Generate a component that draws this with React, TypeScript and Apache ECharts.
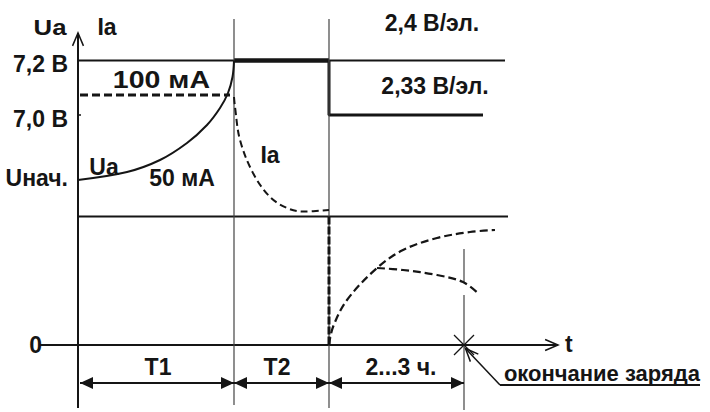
import React, { useEffect, useRef } from "react";
import * as echarts from "echarts";

// Schematic units: 1 time unit along t, 1 level unit along Ua/Ia.
const T1_END = 15.6;
const T2_END = 25.1;
const T_END = 38.6;
const U_72 = 28.45; // 7,2 В
const U_70 = 23.0; // 7,0 В
const U_START = 16.5; // Uнач.
const I_100 = 25.0; // 100 мА
const MID = 12.85; // lower boundary of the Ua/Ia panel
const DIM_Y = -3.8; // dimension arrows row

const uaCurve = [
  [0, 16.5], [4.9, 17.3], [8.2, 18.5], [10.9, 20.2], [12.9, 22.0],
  [14.2, 23.7], [15.0, 25.2], [15.45, 26.8], [15.6, 28.45],
];
const iaCurve = [
  [15.6, 24.8], [15.7, 23.8], [16.2, 20.5], [17.5, 17.2], [19.2, 14.8],
  [20.9, 13.7], [22.5, 13.35], [25.1, 13.5],
];
const riseCurve = [
  [25.1, 0], [25.5, 1.8], [26.9, 4.5], [29.9, 7.7], [32.5, 9.5],
  [35.9, 10.7], [39.2, 11.3], [41.7, 11.5],
];
const branchCurve = [
  [29.9, 7.7], [32.5, 7.5], [35.9, 7.0], [38.5, 6.3], [40.1, 5.1],
];

const tickLabels = [
  { value: U_72, text: "7,2 В" },
  { value: U_70, text: "7,0 В" },
  { value: 17.1, text: "Uнач." },
];

const texts = [
  { text: "Ua", x: -2.8, y: 31.8, align: "center", sx: 1.12 },
  { text: "Ia", x: 2.9, y: 31.8, align: "center" },
  { text: "0", x: -3.6, y: 0, align: "right" },
  { text: "100 мА", x: 13.2, y: 26.5, align: "right", sx: 1.24 },
  { text: "Ua", x: 2.6, y: 17.8, align: "center" },
  { text: "50 мА", x: 10.4, y: 16.7, align: "center" },
  { text: "Ia", x: 19.2, y: 19.0, align: "center" },
  { text: "2,4 В/эл.", x: 35.4, y: 32.2, align: "center" },
  { text: "2,33 В/эл.", x: 35.7, y: 25.9, align: "center" },
  { text: "T1", x: 8.0, y: -2.2, align: "center" },
  { text: "T2", x: 19.9, y: -2.2, align: "center" },
  { text: "2...3 ч.", x: 32.3, y: -2.2, align: "center" },
  { text: "t", x: 48.7, y: 0.1, align: "left" },
  { text: "окончание заряда", x: 62.2, y: -2.85, align: "right", size: 22 },
];

const INK = "#151515";
const FONT = "Liberation Sans";

function seg(data: number[][], width: number, opts: any = {}) {
  return {
    type: "line",
    data,
    symbol: "none",
    silent: true,
    smooth: opts.smooth ?? false,
    z: opts.z ?? 2,
    lineStyle: {
      color: opts.color ?? INK,
      width,
      type: opts.dash ?? "solid",
      cap: "butt",
    },
  };
}

export default function App() {
  const ref = useRef<HTMLDivElement>(null);
  useEffect(() => {
    if (!ref.current) return;
    const chart = echarts.init(ref.current, undefined, { renderer: "svg" });

    const allTexts: any[] = [
      ...tickLabels.map((t) => ({ text: t.text, x: -1.0, y: t.value - 0.35, align: "right" })),
      ...texts,
    ];

    chart.setOption({
      animation: false,
      grid: { left: 0, right: 0, top: 0, bottom: 0 },
      xAxis: { type: "value", min: -7.8, max: 63.2, show: false },
      yAxis: { type: "value", min: -6.7, max: 34.5, show: false },
      series: [
        seg([[0, -6.3], [0, 31.2]], 2),
        seg([[-3.8, 0], [48, 0]], 2),
        seg([[0, U_72], [42.7, U_72]], 2),
        seg([[T1_END, U_72], [T2_END, U_72]], 4.5),
        seg([[T2_END, U_72], [T2_END, U_70], [40.5, U_70]], 3),
        seg([[0, MID], [43.0, MID]], 2),
        seg([[T1_END, 32.6], [T1_END, -6.0]], 1.2, { color: "#444" }),
        seg([[T2_END, 32.6], [T2_END, -6.3]], 1.2, { color: "#444" }),
        seg([[T_END, 9.6], [T_END, 6.3]], 1.2, { color: "#444" }),
        seg([[T_END, 5.0], [T_END, -6.5]], 1.2, { color: "#444" }),
        seg([[0, U_70], [0.3, U_70]], 1.5),
        seg([[0.2, I_100], [15.2, I_100]], 3, { dash: [8, 4] }),
        seg(uaCurve, 2, { smooth: 0.35 }),
        seg(iaCurve, 2, { smooth: 0.35, dash: [7, 4] }),
        seg([[T2_END, MID], [T2_END, 0]], 3, { dash: [8, 2] }),
        seg(riseCurve, 2.2, { smooth: 0.35, dash: [8, 4] }),
        seg(branchCurve, 2.2, { smooth: 0.35, dash: [8, 4] }),
        seg([[0.2, DIM_Y], [T_END, DIM_Y]], 2),
        seg([[42.2, -4.0], [38.75, -0.35]], 1.5),
        seg([[42.2, -4.0], [62.2, -4.0]], 2),
        {
          // open arrow heads: [tipX, tipY, fromX, fromY]
          type: "custom",
          silent: true,
          z: 3,
          data: [
            [48, 0, 47, 0],
            [0, 31.2, 0, 30],
            [38.75, -0.35, 42.2, -4.0],
          ],
          renderItem: (params: any, api: any) => {
            const tip = api.coord([api.value(0), api.value(1)]);
            const from = api.coord([api.value(2), api.value(3)]);
            const ang = Math.atan2(from[1] - tip[1], from[0] - tip[0]);
            const L = 14, a = 0.4;
            const w1 = [tip[0] + L * Math.cos(ang + a), tip[1] + L * Math.sin(ang + a)];
            const w2 = [tip[0] + L * Math.cos(ang - a), tip[1] + L * Math.sin(ang - a)];
            return {
              type: "polyline",
              shape: { points: [w1, tip, w2] },
              style: { stroke: INK, lineWidth: 1.5, fill: "none" },
            };
          },
        },
        {
          // filled dimension arrow heads: [tipX, tipY, direction]
          type: "custom",
          silent: true,
          z: 3,
          data: [
            [0.2, DIM_Y, -1],
            [T1_END, DIM_Y, 1],
            [T1_END, DIM_Y, -1],
            [T2_END, DIM_Y, 1],
            [T2_END, DIM_Y, -1],
            [T_END, DIM_Y, 1],
          ],
          renderItem: (params: any, api: any) => {
            const tip = api.coord([api.value(0), api.value(1)]);
            const d = api.value(2);
            const L = 13, H = 6;
            return {
              type: "polygon",
              shape: {
                points: [tip, [tip[0] - d * L, tip[1] - H], [tip[0] - d * L, tip[1] + H]],
              },
              style: { fill: INK },
            };
          },
        },
        {
          // end-of-charge cross
          type: "custom",
          silent: true,
          z: 3,
          data: [[T_END, 0]],
          renderItem: (params: any, api: any) => {
            const c = api.coord([api.value(0), api.value(1)]);
            const r = 10;
            return {
              type: "group",
              children: [
                { type: "line", shape: { x1: c[0] - r, y1: c[1] - r, x2: c[0] + r, y2: c[1] + r }, style: { stroke: INK, lineWidth: 1.2 } },
                { type: "line", shape: { x1: c[0] - r, y1: c[1] + r, x2: c[0] + r, y2: c[1] - r }, style: { stroke: INK, lineWidth: 1.2 } },
              ],
            };
          },
        },
        {
          type: "custom",
          silent: true,
          z: 4,
          data: allTexts.map((t) => [t.x, t.y]),
          renderItem: (params: any, api: any) => {
            const t = allTexts[params.dataIndex];
            const p = api.coord([api.value(0), api.value(1)]);
            return {
              type: "text",
              x: p[0],
              y: p[1],
              scaleX: t.sx ?? 1,
              style: {
                text: t.text,
                fontFamily: FONT,
                fontWeight: "bold",
                fontSize: t.size ?? 23,
                fill: INK,
                align: t.align,
                verticalAlign: "middle",
              },
            };
          },
        },
      ],
    });
    return () => chart.dispose();
  }, []);
  return (
    <div
      ref={ref}
      style={{ position: "fixed", left: 0, top: 0, width: 710, height: 412, background: "#fff" }}
    />
  );
}
